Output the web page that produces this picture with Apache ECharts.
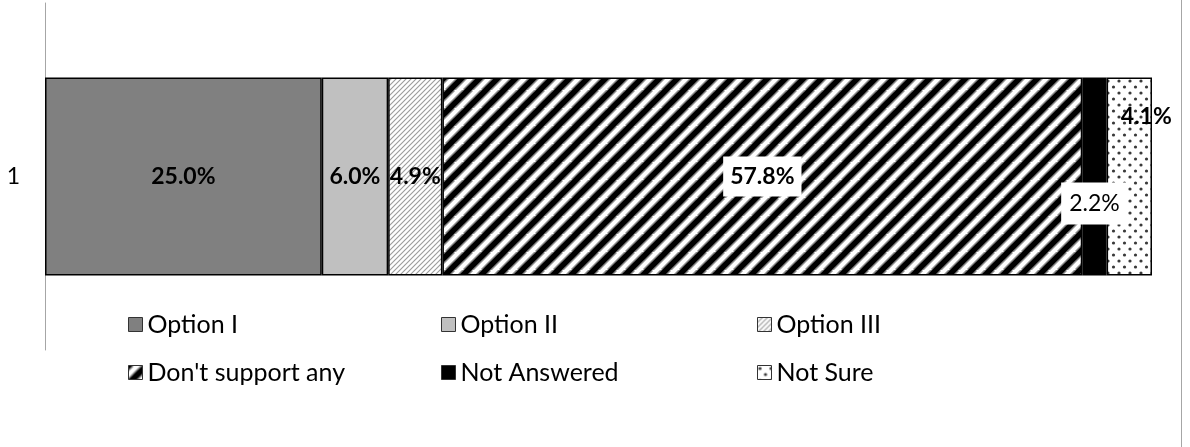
<!DOCTYPE html>
<html>
<head>
<meta charset="utf-8">
<script src="https://cdn.jsdelivr.net/npm/echarts@6/dist/echarts.min.js"></script>
<style>
html,body{margin:0;padding:0;background:#fff;}
#chart{width:1190px;height:447px;}
</style>
</head>
<body>
<div id="chart"></div>
<script>
const categories = ['1'];
const seriesNames = ['Option I', 'Option II', 'Option III', "Don't support any", 'Not Answered', 'Not Sure'];
const optionI = [25.0];
const optionII = [6.0];
const optionIII = [4.9];
const dontSupport = [57.8];
const notAnswered = [2.2];
const notSure = [4.1];
const xTicks = [0, 100];

const FONT = 'Lato';

function makeTile(w, h, draw) {
  const c = document.createElement('canvas');
  c.width = w; c.height = h;
  const ctx = c.getContext('2d');
  ctx.fillStyle = '#fff';
  ctx.fillRect(0, 0, w, h);
  draw(ctx, w, h);
  return { image: c, repeat: 'repeat' };
}
function diag(ctx, P, width, color) {
  ctx.strokeStyle = color;
  ctx.lineWidth = width;
  for (let k = -1; k <= 1; k++) {
    ctx.beginPath();
    ctx.moveTo(k * P - 2, P + 2);
    ctx.lineTo(k * P + P + 2, -2);
    ctx.stroke();
  }
}
const lightHatch = makeTile(5, 5, (ctx, w) => diag(ctx, w, 1.1, '#9a9a9a'));
const heavyStripe = makeTile(18, 18, (ctx, w) => { diag(ctx, w, 8.5, '#8a8a8a'); diag(ctx, w, 5.5, '#000'); });
const dots = makeTile(11, 12, (ctx) => {
  ctx.fillStyle = '#3a3a3a';
  [[2.5, 3], [8, 9]].forEach(([x, y]) => { ctx.beginPath(); ctx.arc(x, y, 1.6, 0, Math.PI * 2); ctx.fill(); });
});

const fills = ['#808080', '#c0c0c0', lightHatch, heavyStripe, '#000000', dots];
const values = [optionI, optionII, optionIII, dontSupport, notAnswered, notSure];
const fmt = p => p.value.toFixed(1) + '%';

const labelBase = { show: true, position: 'inside', formatter: fmt, fontFamily: FONT, fontSize: 23, lineHeight: 24, fontWeight: 'bold', color: '#000' };
const labels = [
  Object.assign({}, labelBase),
  Object.assign({}, labelBase),
  Object.assign({}, labelBase),
  Object.assign({}, labelBase, { backgroundColor: '#fff', padding: [8, 7, 8, 7] }),
  Object.assign({}, labelBase, { fontWeight: 'normal', backgroundColor: '#fff', padding: [9, 8, 9, 8], offset: [0, 27] }),
  Object.assign({}, labelBase, { offset: [17, -60] })
];

const series = seriesNames.map((name, i) => ({
  name: name,
  type: 'bar',
  stack: 'total',
  barWidth: '57%',
  data: values[i],
  itemStyle: { color: fills[i], borderColor: '#000', borderWidth: 1.5 },
  label: labels[i],
  emphasis: { disabled: true },
  animation: false
}));

const legendPos = [
  [128, 312], [441, 312], [757, 312],
  [128, 360], [441, 360], [757, 360]
];
const legends = seriesNames.map((n, i) => ({
  data: [{ name: n, icon: 'rect' }],
  left: legendPos[i][0],
  top: legendPos[i][1],
  padding: 0,
  itemWidth: 14, itemHeight: 14,
  itemGap: 0,
  selectedMode: false,
  textStyle: { fontFamily: FONT, fontSize: 25, color: '#000' },
  itemStyle: { borderColor: '#333', borderWidth: 1 }
}));

const chart = echarts.init(document.getElementById('chart'), null, { renderer: 'canvas' });
chart.setOption({
  backgroundColor: '#fff',
  animation: false,
  grid: { left: 45, right: 38, top: 3, bottom: 97, containLabel: false },
  xAxis: { type: 'value', min: xTicks[0], max: xTicks[1], show: false },
  yAxis: {
    type: 'category', data: categories,
    axisLine: { show: true, lineStyle: { color: '#a6a6a6', width: 1 } },
    axisTick: { show: false },
    axisLabel: { margin: 25, fontFamily: FONT, fontSize: 23, color: '#000' },
    splitLine: { show: false }
  },
  legend: legends,
  graphic: [{
    type: 'line', shape: { x1: 1181.5, y1: 0, x2: 1181.5, y2: 447 },
    style: { stroke: '#a6a6a6', lineWidth: 1 }, silent: true
  }],
  series: series
});
</script>
</body>
</html>
